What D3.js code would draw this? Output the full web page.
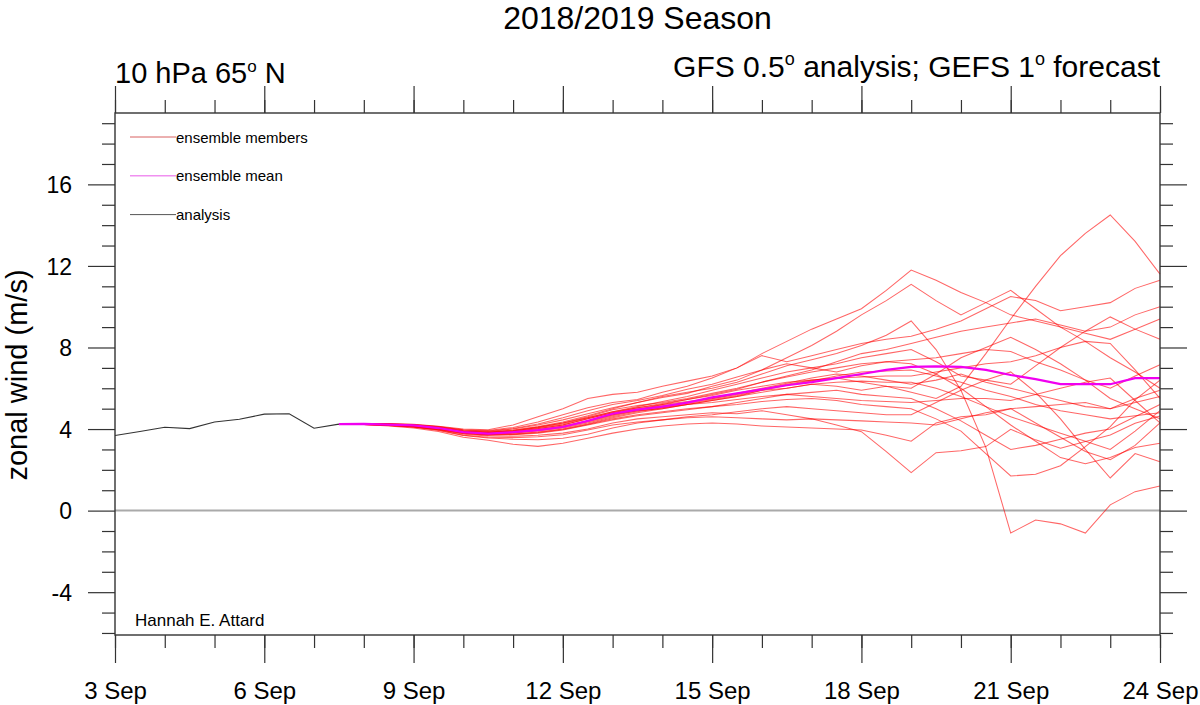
<!DOCTYPE html>
<html>
<head>
<meta charset="utf-8">
<script src="https://cdn.jsdelivr.net/npm/d3@7"></script>
<style>
body { margin:0; background:#fff; }
svg { display:block; }
text { font-family:"Liberation Sans", Arial, Helvetica, sans-serif; fill:#000; }
</style>
</head>
<body>
<div id="chart"></div>
<script>
// analysis, every 12 h from 3 Sep 00Z
var analysis = [3.68, 3.88, 4.09, 4.02, 4.35, 4.48, 4.73, 4.75, 4.04, 4.24];

// ensemble mean, every 12 h from 7 Sep 12Z
var ensMean = [4.24, 4.25, 4.22, 4.18, 4.05, 3.85, 3.78, 3.85, 3.95, 4.1, 4.4, 4.75, 4.95, 5.1, 5.3,
  5.55, 5.75, 5.95, 6.15, 6.3, 6.5, 6.7, 6.9, 7.05, 7.07, 7.05, 6.9, 6.65, 6.45, 6.2, 6.2, 6.2, 6.5, 6.5];

// ensemble members, every 12 h from 7 Sep 12Z
var members = [
  [4.24,4.27,4.26,4.22,4.12,3.97,3.93,4.08,4.35,4.7,5.05,5.3,5.45,5.8,6.1,6.5,7.0,7.7,8.3,8.9,9.4,9.9,10.8,11.8,11.3,10.7,10.2,9.6,9.3,9.0,8.7,8.4,8.9,9.4],
  [4.24,4.26,4.25,4.2,4.09,3.93,3.88,4.0,4.2,4.45,4.75,5.05,5.3,5.55,5.75,6.1,6.4,6.9,7.5,8.1,8.8,9.6,10.3,11.1,10.3,9.6,10.2,10.8,9.9,9.0,8.3,7.5,6.8,6.0],
  [4.24,4.25,4.22,4.15,4.03,3.84,3.77,3.83,3.95,4.1,4.35,4.65,4.9,5.0,5.2,5.4,5.6,5.9,6.0,6.2,6.1,5.9,6.1,5.8,5.5,6.1,7.7,9.4,11.0,12.5,13.6,14.5,13.2,11.6],
  [4.24,4.26,4.24,4.19,4.07,3.9,3.85,3.95,4.12,4.35,4.65,5.0,5.3,5.6,5.8,6.0,6.3,6.7,7.1,7.4,7.7,8.1,8.6,9.3,7.9,5.9,3.1,-1.1,-0.46,-0.65,-1.1,0.28,0.93,1.21],
  [4.24,4.23,4.19,4.11,3.97,3.75,3.66,3.65,3.7,3.8,4.0,4.3,4.5,4.6,4.7,4.8,4.75,4.9,4.7,4.5,4.2,3.87,2.89,1.86,2.84,2.94,3.14,3.99,3.47,3.06,3.39,3.71,4.28,4.64],
  [4.24,4.27,4.27,4.23,4.14,4.0,3.97,4.2,4.6,5.0,5.5,5.7,5.8,6.1,6.35,6.6,7.0,7.6,7.3,7.6,7.9,8.2,8.4,8.55,8.9,9.3,9.9,10.5,10.3,9.8,10.0,10.2,10.9,11.3],
  [4.24,4.25,4.23,4.17,4.05,3.88,3.82,3.9,4.08,4.3,4.6,4.95,5.15,5.3,5.5,5.75,6.0,6.3,6.6,6.9,7.3,7.7,7.9,8.2,8.5,8.8,9.0,9.2,9.4,9.1,8.8,9.0,9.6,10.0],
  [4.24,4.26,4.23,4.18,4.06,3.89,3.84,3.93,4.1,4.3,4.55,4.85,5.1,5.35,5.6,5.9,6.2,6.5,6.8,7.0,7.2,7.5,7.7,7.9,7.3,6.6,6.4,6.2,7.1,8.0,8.8,9.5,8.9,8.4],
  [4.24,4.25,4.21,4.15,4.02,3.84,3.76,3.82,3.95,4.12,4.4,4.7,4.95,5.2,5.45,5.7,5.95,6.3,6.55,6.8,7.0,7.2,7.3,7.4,7.5,7.7,7.9,7.8,7.3,6.9,6.4,6.0,6.6,7.15],
  [4.24,4.24,4.21,4.14,4.01,3.82,3.74,3.79,3.9,4.05,4.3,4.6,4.85,5.05,5.25,5.45,5.65,5.9,6.15,6.35,6.6,6.8,6.85,6.9,6.6,6.3,5.9,5.6,5.2,4.9,4.7,4.5,4.65,4.8],
  [4.24,4.25,4.22,4.16,4.04,3.86,3.8,3.87,4.02,4.2,4.5,4.8,5.05,5.25,5.45,5.65,5.9,6.1,6.3,6.4,6.5,6.55,6.6,6.6,6.8,7.0,7.2,7.3,7.6,8.0,8.3,8.2,6.9,5.5],
  [4.24,4.24,4.2,4.13,4.0,3.8,3.72,3.76,3.86,4.0,4.25,4.55,4.8,5.0,5.2,5.4,5.6,5.8,6.0,6.2,6.3,6.35,6.3,6.3,6.0,5.6,5.1,4.6,4.2,3.8,3.4,3.0,3.9,4.9],
  [4.24,4.25,4.23,4.17,4.06,3.88,3.83,3.92,4.06,4.25,4.55,4.85,5.05,5.2,5.35,5.5,5.7,5.95,6.2,6.4,6.5,6.3,6.1,6.0,6.7,7.5,8.0,8.5,7.9,7.2,6.4,5.5,5.0,4.5],
  [4.24,4.23,4.19,4.12,3.98,3.78,3.7,3.72,3.8,3.95,4.2,4.45,4.65,4.8,4.95,5.1,5.3,5.5,5.7,5.8,5.9,5.7,5.6,5.5,5.0,4.4,3.7,3.0,3.2,3.5,3.8,4.0,4.6,5.2],
  [4.24,4.24,4.21,4.15,4.03,3.85,3.78,3.84,3.97,4.15,4.4,4.7,4.9,5.05,5.2,5.3,5.45,5.6,5.7,5.6,5.5,5.4,5.35,5.3,5.4,5.5,5.5,5.4,5.7,6.0,6.3,6.5,5.4,4.3],
  [4.24,4.23,4.2,4.13,3.99,3.79,3.71,3.74,3.83,3.98,4.22,4.5,4.7,4.85,5.0,5.1,5.2,5.35,5.45,5.5,5.4,5.2,5.1,5.0,4.5,3.9,2.8,1.7,1.78,2.2,3.14,4.12,5.43,6.4],
  [4.24,4.22,4.17,4.09,3.93,3.68,3.56,3.5,3.48,3.55,3.75,4.05,4.3,4.45,4.6,4.7,4.85,5.0,5.1,5.0,4.9,4.8,4.7,4.7,5.3,5.9,6.4,6.8,5.8,4.5,3.0,1.6,2.8,2.4],
  [4.24,4.23,4.18,4.1,3.95,3.7,3.6,3.58,3.62,3.72,3.95,4.2,4.35,4.45,4.55,4.6,4.55,4.5,4.45,4.5,4.45,4.4,4.35,4.3,4.2,4.5,4.8,5.0,4.3,3.6,2.9,2.5,3.2,4.3],
  [4.24,4.22,4.15,4.05,3.88,3.6,3.45,3.25,3.15,3.3,3.55,3.8,4.0,4.15,4.25,4.3,4.25,4.15,4.1,4.05,4.0,3.95,3.7,3.4,4.3,4.6,4.7,5.0,5.1,5.2,5.3,5.0,5.3,5.6],
  [4.24,4.26,4.25,4.21,4.11,3.95,3.9,4.03,4.25,4.55,4.9,5.2,5.4,5.65,5.95,6.2,6.55,6.9,7.2,7.0,6.8,7.1,7.3,7.2,6.7,6.0,5.1,4.2,3.4,2.6,2.3,2.6,3.1,3.3],
  [4.24,4.25,4.22,4.16,4.04,3.87,3.81,3.88,4.03,4.2,4.5,4.8,5.0,5.15,5.3,5.5,5.75,6.0,6.25,6.5,6.7,6.6,6.4,6.2,6.4,6.7,6.3,6.0,5.7,5.4,5.1,5.0,5.5,5.9]
];

var yMajor = [-4, 0, 4, 8, 12, 16];
var yMinor = [-6, -5, -3, -2, -1, 1, 2, 3, 5, 6, 7, 9, 10, 11, 13, 14, 15, 17, 18, 19];

var HOUR = 3600 * 1000;
var analysisStart = Date.UTC(2018, 8, 3, 0);
var forecastStart = Date.UTC(2018, 8, 7, 12);
var axisStart = new Date(Date.UTC(2018, 8, 3));
var axisEnd = new Date(Date.UTC(2018, 8, 24));

var margin = { left:115, right:40, top:113, bottom:70 };
var w = 1200 - margin.left - margin.right;
var h = 705 - margin.top - margin.bottom;

var svg = d3.select("#chart").append("svg")
    .attr("width", 1200)
    .attr("height", 705);

var g = svg.append("g")
    .attr("transform", "translate(" + margin.left + "," + margin.top + ")");

var x = d3.scaleUtc().domain([axisStart, axisEnd]).range([0, w]);
var y = d3.scaleLinear().domain([-6.1, 19.5]).range([h, 0]);

var xMajor = d3.range(0, 22, 3).map(function(d){ return new Date(Date.UTC(2018, 8, 3 + d)); });
var xMinor = d3.utcDay.range(axisStart, new Date(+axisEnd + HOUR));

// zero line
g.append("line")
    .attr("x1", 0).attr("x2", w)
    .attr("y1", y(0)).attr("y2", y(0))
    .attr("stroke", "#aaa")
    .attr("stroke-width", 2);

var line = function(start) {
    return d3.line()
        .x(function(d, i){ return x(new Date(start + i * 12 * HOUR)); })
        .y(function(d){ return y(d); });
};

// members
g.append("g").attr("class", "members")
    .selectAll("path")
    .data(members)
    .enter()
    .append("path")
    .attr("d", line(forecastStart))
    .attr("fill", "none")
    .attr("stroke", "#ff0000")
    .attr("stroke-opacity", 0.6)
    .attr("stroke-width", 1.05);

// analysis
g.append("path")
    .datum(analysis)
    .attr("d", line(analysisStart))
    .attr("fill", "none")
    .attr("stroke", "#333")
    .attr("stroke-width", 1.1);

// mean
g.append("path")
    .datum(ensMean)
    .attr("d", line(forecastStart))
    .attr("fill", "none")
    .attr("stroke", "#f000f0")
    .attr("stroke-width", 2.2);

// axes
function styleAxis(sel) {
    sel.select(".domain").remove();
    sel.selectAll(".tick line").attr("stroke", "#333").attr("stroke-width", 1.2);
    sel.selectAll("text").attr("font-family", null);
}

g.append("g").attr("transform", "translate(0," + h + ")")
    .call(d3.axisBottom(x).tickValues(xMinor).tickSize(13).tickFormat(""))
    .call(styleAxis);
var xAxisGroup = g.append("g").attr("transform", "translate(0," + h + ")")
    .call(d3.axisBottom(x).tickValues(xMajor).tickSize(28).tickFormat(d3.utcFormat("%-d %b")))
    .call(styleAxis);
xAxisGroup.selectAll("text")
    .attr("y", 64)
    .attr("dy", null)
    .attr("font-size", 24);

g.append("g")
    .call(d3.axisTop(x).tickValues(xMinor).tickSize(13).tickFormat(""))
    .call(styleAxis);
g.append("g")
    .call(d3.axisTop(x).tickValues(xMajor).tickSize(27).tickFormat(""))
    .call(styleAxis);

g.append("g")
    .call(d3.axisLeft(y).tickValues(yMinor).tickSize(13).tickFormat(""))
    .call(styleAxis);
var yAxisGroup = g.append("g")
    .call(d3.axisLeft(y).tickValues(yMajor).tickSize(27).tickPadding(16)
        .tickFormat(function(d){ return String(d); }))
    .call(styleAxis);
yAxisGroup.selectAll("text")
    .attr("font-size", 23)
    .attr("dy", "0.36em");

g.append("g").attr("transform", "translate(" + w + ",0)")
    .call(d3.axisRight(y).tickValues(yMinor).tickSize(13).tickFormat(""))
    .call(styleAxis);
g.append("g").attr("transform", "translate(" + w + ",0)")
    .call(d3.axisRight(y).tickValues(yMajor).tickSize(27).tickFormat(""))
    .call(styleAxis);

// frame
g.append("rect")
    .attr("width", w).attr("height", h)
    .attr("fill", "none")
    .attr("stroke", "#333")
    .attr("stroke-width", 1.4);

// legend
var legendItems = [
    { label:"ensemble members", color:"#d86060", width:1 },
    { label:"ensemble mean", color:"#f090f0", width:1.6 },
    { label:"analysis", color:"#555", width:1 }
];
var legend = svg.append("g").attr("class", "legend");
legendItems.forEach(function(d, i) {
    var ly = 137 + i * 38.8;
    legend.append("line")
        .attr("x1", 130).attr("x2", 176)
        .attr("y1", ly).attr("y2", ly)
        .attr("stroke", d.color)
        .attr("stroke-width", d.width);
    legend.append("text")
        .attr("x", 176)
        .attr("y", ly + 5.5)
        .attr("font-size", 15)
        .text(d.label);
});

// titles
svg.append("text")
    .attr("x", margin.left + w / 2)
    .attr("y", 29)
    .attr("font-size", 32)
    .attr("text-anchor", "middle")
    .text("2018/2019 Season");

var leftSub = svg.append("text")
    .attr("x", 115)
    .attr("y", 83)
    .attr("font-size", 29);
leftSub.append("tspan").text("10 hPa 65");
leftSub.append("tspan").attr("font-size", 17).attr("dy", -11).text("o");
leftSub.append("tspan").attr("dy", 11).text(" N");

var rightSub = svg.append("text")
    .attr("x", 1160)
    .attr("y", 77)
    .attr("font-size", 30)
    .attr("text-anchor", "end");
rightSub.append("tspan").text("GFS 0.5");
rightSub.append("tspan").attr("font-size", 18).attr("dy", -12).text("o");
rightSub.append("tspan").attr("dy", 12).text(" analysis; GEFS 1");
rightSub.append("tspan").attr("font-size", 18).attr("dy", -12).text("o");
rightSub.append("tspan").attr("dy", 12).text(" forecast");

// y label
svg.append("text")
    .attr("transform", "translate(27,375) rotate(-90)")
    .attr("font-size", 29)
    .attr("text-anchor", "middle")
    .text("zonal wind (m/s)");

// author
svg.append("text")
    .attr("x", 135)
    .attr("y", 626)
    .attr("font-size", 17)
    .text("Hannah E. Attard");
</script>
</body>
</html>
